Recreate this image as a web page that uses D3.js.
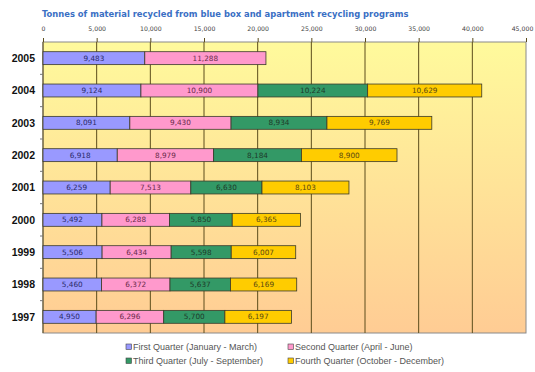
<!DOCTYPE html>
<html>
<head>
<meta charset="utf-8">
<script src="https://cdn.jsdelivr.net/npm/d3@7"></script>
<style>
  body { margin: 0; background: #fff; }
  svg { display: block; }
</style>
</head>
<body>
<div id="app"></div>
<script>
const years = ["2005", "2004", "2003", "2002", "2001", "2000", "1999", "1998", "1997"];
const quarters = ["q1", "q2", "q3", "q4"];
const quarterNames = [
  "First Quarter (January - March)",
  "Second Quarter (April - June)",
  "Third Quarter (July - September)",
  "Fourth Quarter (October - December)"
];
const q1 = [9483, 9124, 8091, 6918, 6259, 5492, 5506, 5460, 4950];
const q2 = [11288, 10900, 9430, 8979, 7513, 6288, 6434, 6372, 6296];
const q3 = [0, 10224, 8934, 8184, 6630, 5850, 5598, 5637, 5700];
const q4 = [0, 10629, 9769, 8900, 8103, 6365, 6007, 6169, 6197];
const xTicks = [0, 5000, 10000, 15000, 20000, 25000, 30000, 35000, 40000, 45000];
const colors = ["#9999ff", "#ff99cc", "#339966", "#ffcc00"];

const width = 535, height = 372;
const margin = { top: 42, right: 9, bottom: 39, left: 43 };

const svg = d3.select("#app").append("svg")
  .attr("width", width)
  .attr("height", height);

const rows = years.map((y, i) => ({ year: y, q1: q1[i], q2: q2[i], q3: q3[i], q4: q4[i] }));
const series = d3.stack().keys(quarters)(rows);

const x = d3.scaleLinear().domain([0, 45000]).range([margin.left, width - margin.right]);
const y = d3.scaleBand().domain(years)
  .range([margin.top, height - margin.bottom])
  .paddingInner(0.6).paddingOuter(0.3);

// background gradient
const grad = svg.append("defs").append("linearGradient")
  .attr("id", "bg").attr("x1", 0).attr("y1", 0).attr("x2", 0).attr("y2", 1);
grad.append("stop").attr("offset", "0%").attr("stop-color", "#fffa9c");
grad.append("stop").attr("offset", "100%").attr("stop-color", "#ffcc94");

svg.append("rect")
  .attr("x", x(0)).attr("y", margin.top)
  .attr("width", x(45000) - x(0))
  .attr("height", height - margin.bottom - margin.top)
  .attr("fill", "url(#bg)")
  .attr("stroke", "#8a8a8a");

// title
svg.append("text")
  .attr("x", 42).attr("y", 17)
  .attr("font-family", "DejaVu Sans")
  .attr("font-weight", "bold")
  .attr("font-size", 8.4)
  .attr("fill", "#3a6fc4")
  .text("Tonnes of material recycled from blue box and apartment recycling programs");

// top axis
const xAxis = d3.axisTop(x).tickValues(xTicks).tickSize(4).tickFormat(d3.format(","));
const gx = svg.append("g").attr("transform", `translate(0,${margin.top})`).call(xAxis);
gx.select(".domain").remove();
gx.selectAll(".tick line").attr("stroke", "#5c4d1c");
gx.selectAll(".tick text")
  .attr("font-family", "DejaVu Sans")
  .attr("font-size", 6.2)
  .attr("fill", "#444")
  .attr("dy", "-0.6em")
  .attr("dx", d => d === 45000 ? -4 : 0);

// grid
svg.append("g").selectAll("line")
  .data(xTicks.slice(1, -1))
  .join("line")
  .attr("x1", d => x(d)).attr("x2", d => x(d))
  .attr("y1", margin.top).attr("y2", height - margin.bottom)
  .attr("stroke", "#5c4d1c").attr("stroke-width", 1);
svg.append("line")
  .attr("x1", x(0)).attr("x2", x(0))
  .attr("y1", margin.top).attr("y2", height - margin.bottom)
  .attr("stroke", "#5c4d1c");

// left ticks between categories
const step = y.step();
svg.append("g").selectAll("line")
  .data(years.slice(0, -1))
  .join("line")
  .attr("x1", x(0) - 3).attr("x2", x(0))
  .attr("y1", d => y(d) + y.bandwidth() / 2 + step / 2)
  .attr("y2", d => y(d) + y.bandwidth() / 2 + step / 2)
  .attr("stroke", "#777");

// year labels
svg.append("g").selectAll("text")
  .data(years)
  .join("text")
  .attr("x", 35)
  .attr("y", d => y(d) + y.bandwidth() / 2)
  .attr("dy", "0.36em")
  .attr("text-anchor", "end")
  .attr("font-family", "Liberation Sans")
  .attr("font-weight", "bold")
  .attr("font-size", 10.5)
  .attr("fill", "#111")
  .text(d => d);

// bars
const layer = svg.append("g").selectAll("g")
  .data(series)
  .join("g")
  .attr("fill", (d, i) => colors[i]);

layer.selectAll("rect")
  .data(d => d.filter(s => s[1] > s[0]))
  .join("rect")
  .attr("x", d => x(d[0]))
  .attr("y", d => y(d.data.year))
  .attr("width", d => x(d[1]) - x(d[0]))
  .attr("height", y.bandwidth())
  .attr("stroke", "#3a3a2a")
  .attr("stroke-width", 0.8);

layer.selectAll("text")
  .data(d => d.filter(s => s[1] > s[0]))
  .join("text")
  .attr("x", d => (x(d[0]) + x(d[1])) / 2)
  .attr("y", d => y(d.data.year) + y.bandwidth() / 2)
  .attr("dy", "0.35em")
  .attr("text-anchor", "middle")
  .attr("font-family", "DejaVu Sans")
  .attr("font-size", 7.3)
  .attr("fill", function () {
    const k = d3.select(this.parentNode).datum().key;
    return k === "q1" ? "#2a2a6a" : k === "q2" ? "#6a2a4a" : k === "q3" ? "#1e3a2a" : "#5a4a10";
  })
  .text(d => d3.format(",")(d[1] - d[0]));

// legend
const legendPos = [[126, 350], [288, 350], [126, 364], [288, 364]];
const lg = svg.append("g").selectAll("g")
  .data(quarterNames)
  .join("g")
  .attr("transform", (d, i) => `translate(${legendPos[i][0]},${legendPos[i][1]})`);
lg.append("rect")
  .attr("x", 0).attr("y", -6).attr("width", 5.5).attr("height", 5.5)
  .attr("fill", (d, i) => colors[i])
  .attr("stroke", "#444").attr("stroke-width", 0.6);
lg.append("text")
  .attr("x", 7).attr("y", 0)
  .attr("font-family", "Liberation Sans")
  .attr("font-size", 9)
  .attr("fill", "#555")
  .text(d => d);
</script>
</body>
</html>
